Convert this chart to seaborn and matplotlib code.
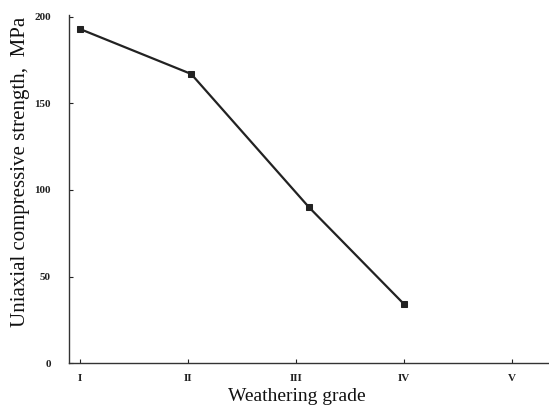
import matplotlib
matplotlib.use("Agg")
import matplotlib.pyplot as plt
import seaborn as sns
import pandas as pd

# Strength versus weathering grade
grade_labels = ["I", "II", "III", "IV", "V"]
grade_ticks = [1, 2, 3, 4, 5]
sample_grade = [1.0, 2.03, 3.12, 4.0]
strength_mpa = [193, 167, 90, 34]
y_ticks = [0, 50, 100, 150, 200]

sns.set_theme(style="ticks")
plt.rcParams["font.family"] = ["Liberation Serif", "DejaVu Serif"]

df = pd.DataFrame({"grade": sample_grade, "strength": strength_mpa})

fig = plt.figure(figsize=(5.49, 4.08), dpi=100)
ax = fig.add_axes([0.1257, 0.110, 0.8743, 0.853])

sns.lineplot(data=df, x="grade", y="strength", ax=ax, color="#222222",
             linewidth=1.6, marker="s", markersize=4,
             markeredgecolor="#222222", markerfacecolor="#222222")

ax.set_xlim(0.9, 5.34)
ax.set_ylim(0, 201)
ax.set_xticks(grade_ticks)
ax.set_xticklabels(grade_labels)
ax.set_yticks(y_ticks)
ax.tick_params(direction="in", length=3, width=0.8, colors="#222222",
               labelsize=8)
ax.tick_params(axis="x", pad=8)
ax.tick_params(axis="y", pad=13)
for lab in ax.get_xticklabels() + ax.get_yticklabels():
    lab.set_fontweight("bold")

sns.despine(ax=ax)
for side in ("left", "bottom"):
    ax.spines[side].set_color("#333333")
    ax.spines[side].set_linewidth(1.0)

ax.set_xlabel("Weathering grade", fontsize=14, color="#111111")
ax.xaxis.set_label_coords(0.475, -0.072)
ax.set_ylabel("Uniaxial compressive strength,  MPa", fontsize=15,
              color="#111111")
ax.yaxis.set_label_coords(-0.082, 0.55)

fig.savefig("out.png", dpi=100)
